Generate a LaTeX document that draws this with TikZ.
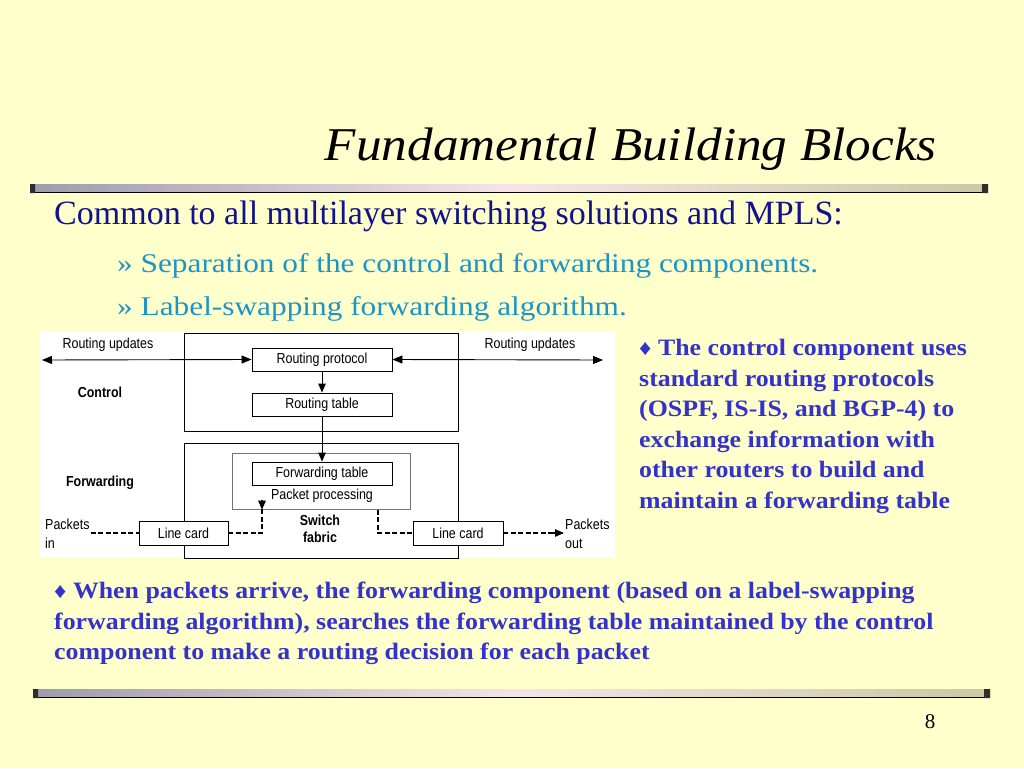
\documentclass[tikz,border=0pt]{standalone}
\usepackage{fontspec}
\setmainfont{Liberation Serif}
\setsansfont{Liberation Sans}
\newfontfamily\fbtitlefont[FakeStretch=1.09]{Liberation Serif}
\newfontfamily\fbsubfont[FakeStretch=1.16]{Liberation Serif}
\newfontfamily\fbnotefont[FakeStretch=1.10]{Liberation Serif}
\newfontfamily\fbdiagfont[FakeStretch=0.86]{Liberation Sans}
\usetikzlibrary{positioning,arrows.meta}
\definecolor{fbBack}{HTML}{FFFFCC}
\definecolor{fbNavy}{HTML}{12128E}
\definecolor{fbTeal}{HTML}{1C95C6}
\definecolor{fbBlue}{HTML}{3333CC}
\definecolor{fbBarL}{HTML}{9C9CAA}
\definecolor{fbBarM}{HTML}{F6E4E6}
\definecolor{fbBarR}{HTML}{C9C9A4}
\definecolor{fbCap}{HTML}{2E2E2E}
\tikzset{
  fb-box/.style={draw=black, line width=0.9pt, fill=white,
    font=\fbdiagfont\fontsize{14.5}{16}\selectfont, inner sep=0pt},
  fb-frame/.style={draw=black, line width=0.9pt, anchor=north west, inner sep=0pt},
  fb-label/.style={font=\fbdiagfont\fontsize{14.5}{19}\selectfont, inner sep=1pt, align=left},
  fb-bold/.style={fb-label, font=\fbdiagfont\bfseries\fontsize{14.5}{19}\selectfont, align=center},
  fb-flow/.style={-{Triangle[length=9pt,width=7.5pt]}, line width=0.9pt},
  fb-both/.style={{Triangle[length=10pt,width=8pt]}-{Triangle[length=10pt,width=8pt]}, line width=0.9pt},
  fb-dash/.style={line width=1.8pt, dash pattern=on 5pt off 2.5pt},
  fb-note/.style={font=\fbnotefont\bfseries\fontsize{23.5}{30.6}\selectfont, text=fbBlue,
    align=left, anchor=north west, inner sep=0pt},
  fb-sub/.style={anchor=west, text=fbTeal, font=\fbsubfont\fontsize{27}{30}\selectfont, inner sep=0pt},
  fb-bar/.style={left color=fbBarL, right color=fbBarR, middle color=fbBarM}
}
\newcommand{\fbdia}{{\fontsize{22}{22}\selectfont\char"2666}}
\begin{document}
\begin{tikzpicture}[x=1pt, y=-1pt]
\fill[fbBack] (0,0) rectangle (1024,768);
\useasboundingbox (0,0) rectangle (1024,768);

% title and rules
\node[anchor=east, font=\fbtitlefont\itshape\fontsize{47}{50}\selectfont, inner sep=0pt] (title) at (937,149) {Fundamental Building Blocks};
\shade[fb-bar] (30,184) rectangle (988,192);
\draw[black, line width=1.3pt] (30,192.5) -- (988,192.5);
\fill[fbCap] (30,184) rectangle (35,193) (982,184) rectangle (988,193);
\shade[fb-bar] (33,689) rectangle (990,697);
\draw[black, line width=1.3pt] (33,697.5) -- (990,697.5);
\fill[fbCap] (33,689) rectangle (38,698) (984,689) rectangle (990,698);

% bullets
\node[anchor=west, text=fbNavy, font=\fontsize{34}{36}\selectfont, inner sep=0pt] (common) at (54,216)
  {Common to all multilayer switching solutions and MPLS:};
\node[fb-sub] (sep) at (117,266) {» Separation of the control and forwarding components.};
\node[fb-sub] (swap) at (117,309) {» Label-swapping forwarding algorithm.};

% diagram
\fill[white] (40,331) rectangle (615,558);
\node[fb-frame, minimum width=274pt, minimum height=98pt] (ctrl) at (184,333) {};
\node[fb-frame, minimum width=274pt, minimum height=115pt] (fwd) at (184,443) {};
\node[fb-frame, draw=black!55, line width=0.7pt, minimum width=178pt, minimum height=56pt] (sw) at (232,453) {};
\node[fb-box, minimum width=140pt, minimum height=23pt] (proto) at (322,359.5) {Routing protocol};
\node[fb-box, minimum width=140pt, minimum height=23pt] (rtab) at (322,404.5) {Routing table};
\node[fb-box, minimum width=140pt, minimum height=23pt] (ftab) at (322,473.5) {Forwarding table};
\node[fb-label] (pproc) at (322,496) {Packet processing};
\node[fb-bold, font=\fbdiagfont\bfseries\fontsize{14.5}{17}\selectfont] (fabric) at (320,529) {Switch\\fabric};
\node[fb-box, minimum width=89pt, minimum height=24pt] (lcin) at (183.5,533) {Line card};
\node[fb-box, minimum width=90pt, minimum height=24pt] (lcout) at (458,533) {Line card};

\node[fb-label] (updl) at (108,345) {Routing updates};
\node[fb-label] (updr) at (530,345) {Routing updates};
\node[fb-bold] (control) at (100,392) {Control};
\node[fb-bold] (forward) at (100,483) {Forwarding};
\node[fb-label, anchor=west] (pin) at (44,534) {Packets\\in};
\node[fb-label, anchor=west] (pout) at (564,534) {Packets\\out};
\coordinate (edgeL) at (42,360);
\coordinate (edgeR) at (603,360);

\draw[fb-both] (edgeL) -- (proto.west);
\draw[fb-both] (proto.east) -- (edgeR);
\draw[fb-flow] (proto) -- (rtab);
\draw[fb-flow] (rtab) -- (ftab);
\draw[fb-dash] (lcin.west -| pin.east) -- (lcin.west);
\draw[fb-dash] (lcin.east) -| ([xshift=30pt,yshift=9pt]sw.south west);
\draw[fb-flow, line width=1.1pt] ([xshift=30pt,yshift=10pt]sw.south west) -- ([xshift=30pt]sw.south west);
\draw[fb-dash] ([xshift=146pt]sw.south west) |- (lcout.west);
\draw[fb-dash] (lcout.east) -- ([xshift=-12pt]lcout.east -| pout.west);
\draw[fb-flow, line width=1.1pt] ([xshift=-13pt]lcout.east -| pout.west) -- (lcout.east -| pout.west);

% notes
\node[fb-note] (noteR) at (639,339)
  {\fbdia{} The control component uses\\ standard routing protocols\\ (OSPF, IS-IS, and BGP-4) to\\
   exchange information with\\ other routers to build and\\ maintain a forwarding table};
\node[fb-note] (noteB) at (54,582)
  {\fbdia{} When packets arrive, the forwarding component (based on a label-swapping\\
   forwarding algorithm), searches the forwarding table maintained by the control\\
   component to make a routing decision for each packet};
\node[font=\fontsize{21}{24}\selectfont, inner sep=0pt] (page) at (930,722) {8};
\end{tikzpicture}
\end{document}
